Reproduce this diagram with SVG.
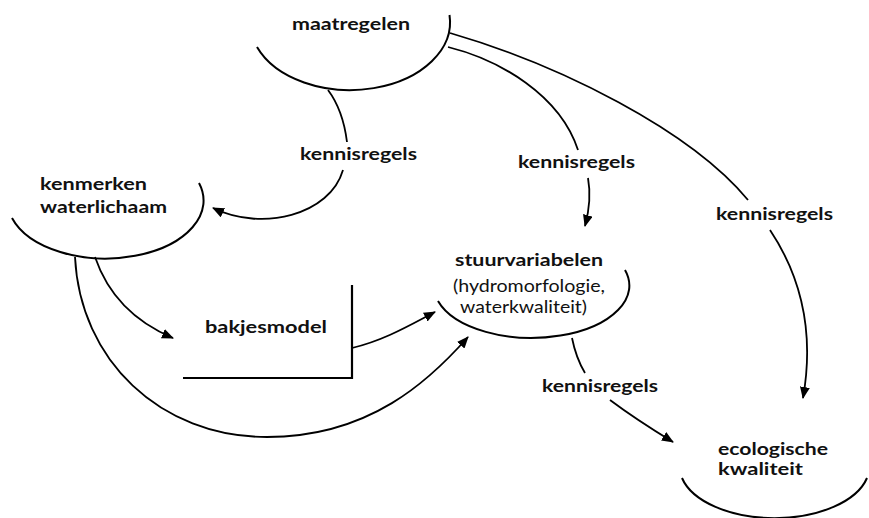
<svg xmlns="http://www.w3.org/2000/svg" width="869" height="518" viewBox="0 0 869 518">
<defs>
<marker id="ah" viewBox="0 0 12 10" refX="11" refY="5" markerWidth="12" markerHeight="10" markerUnits="userSpaceOnUse" orient="auto">
<path d="M0,0 L12,5 L0,10 z" fill="#000"/>
</marker>
</defs>
<style>
.arc{fill:none;stroke:#000;stroke-width:2}
.ln{fill:none;stroke:#000;stroke-width:1.8}
.t{font-family:"Lato","Open Sans","Liberation Sans",sans-serif;font-size:17px;fill:#111}
.b{font-weight:bold}
.lb{font-family:"Lato","Open Sans","Liberation Sans",sans-serif;font-size:17px;font-weight:bold;fill:#111}
</style>
<rect width="869" height="518" fill="#fff"/>
<g id="maatregelen">
<path class="arc" d="M257,47 A100,68 0 0 0 449.5,15"/>
<text class="t b" x="292" y="30" textLength="118" lengthAdjust="spacingAndGlyphs">maatregelen</text>
</g>
<g id="kenmerken-waterlichaam">
<path class="arc" d="M12,218 A98,58 0 0 0 199,183"/>
<text class="t b" x="40" y="190" textLength="107" lengthAdjust="spacingAndGlyphs">kenmerken</text>
<text class="t b" x="40" y="213" textLength="127" lengthAdjust="spacingAndGlyphs">waterlichaam</text>
</g>
<g id="stuurvariabelen">
<path class="arc" d="M438,301 A97,52 0 0 0 625,270"/>
<text class="t b" x="455" y="266" textLength="148" lengthAdjust="spacingAndGlyphs">stuurvariabelen</text>
<text class="t" x="453" y="292" textLength="152" lengthAdjust="spacingAndGlyphs">(hydromorfologie,</text>
<text class="t" x="460" y="313" textLength="127" lengthAdjust="spacingAndGlyphs">waterkwaliteit)</text>
</g>
<g id="bakjesmodel">
<path d="M352,285 L352,378 L183,378" fill="none" stroke="#000" stroke-width="2.2"/>
<text class="t b" x="205" y="333" font-size="18" textLength="122" lengthAdjust="spacingAndGlyphs">bakjesmodel</text>
</g>
<g id="ecologische-kwaliteit">
<path class="arc" d="M682,478 A95,52 0 0 0 867,478"/>
<text class="t b" x="718" y="455" textLength="110" lengthAdjust="spacingAndGlyphs">ecologische</text>
<text class="t b" x="718" y="475" textLength="85" lengthAdjust="spacingAndGlyphs">kwaliteit</text>
</g>
<g id="connectors">
<path class="ln" d="M328,90 Q343,110 347,142"/>
<path class="ln" d="M343,170 C330,215 262,232 213,208" marker-end="url(#ah)"/>
<text class="lb" x="300" y="160" textLength="117" lengthAdjust="spacingAndGlyphs">kennisregels</text>
<path class="ln" d="M448,47 C500,60 560,95 578,150"/>
<path class="ln" d="M588,178 Q592,200 585,226" marker-end="url(#ah)"/>
<text class="lb" x="518" y="168" textLength="117" lengthAdjust="spacingAndGlyphs">kennisregels</text>
<path class="ln" d="M450,33 C560,65 690,130 748,200"/>
<path class="ln" d="M770,230 C800,275 815,330 803,398" marker-end="url(#ah)"/>
<text class="lb" x="716" y="220" textLength="117" lengthAdjust="spacingAndGlyphs">kennisregels</text>
<path class="ln" d="M572,338 Q576,358 585,373"/>
<path class="ln" d="M610,400 C630,415 650,428 673,442" marker-end="url(#ah)"/>
<text class="lb" x="542" y="392" textLength="116" lengthAdjust="spacingAndGlyphs" font-weight="600">kennisregels</text>
<path class="ln" d="M95,257 C108,295 135,322 173,338" marker-end="url(#ah)"/>
<path class="ln" d="M75,257 C80,360 160,437 267,437 C370,437 430,380 468,337" marker-end="url(#ah)"/>
<path class="ln" d="M352,348 C385,340 410,325 435,312" marker-end="url(#ah)"/>
</g>
</svg>
